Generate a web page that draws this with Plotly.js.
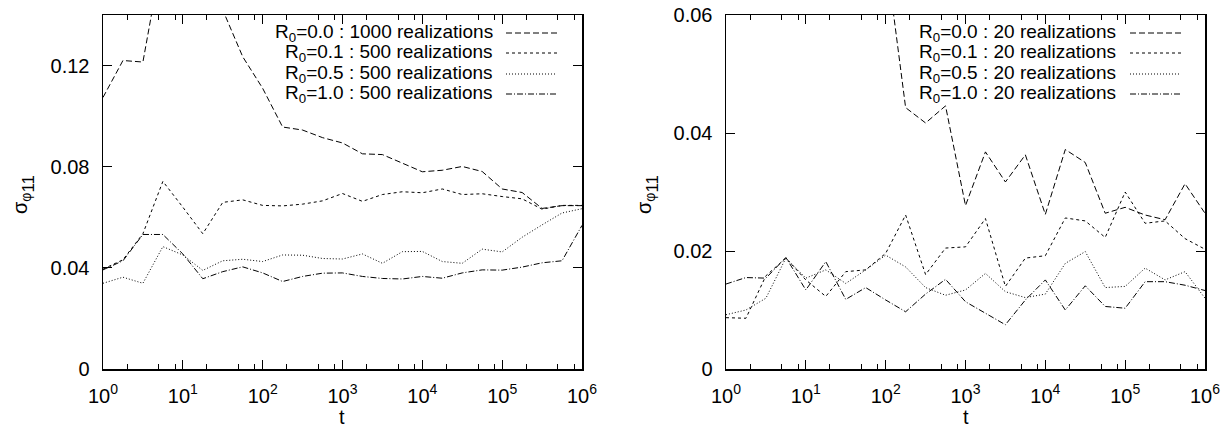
<!DOCTYPE html>
<html>
<head>
<meta charset="utf-8">
<script src="https://cdn.plot.ly/plotly-3.0.1.min.js"></script>
<style>html,body{margin:0;padding:0;background:#fff;}#chart{width:1230px;height:428px;}</style>
</head>
<body>
<div id="chart"></div>
<script>
// time points (4 per decade)
const tValues = [1, 1.778, 3.162, 5.623, 10, 17.78, 31.62, 56.23, 100, 177.8, 316.2, 562.3,
  1000, 1778, 3162, 5623, 10000, 17783, 31623, 56234, 100000, 177828, 316228, 562341, 1000000];

// left panel
const left_R00 = [0.1074, 0.1220, 0.1214, 0.165, 0.175, 0.160, 0.142, 0.1235, 0.1110, 0.0957, 0.0945, 0.0915,
  0.0894, 0.0851, 0.0848, 0.0815, 0.0780, 0.0786, 0.0801, 0.0781, 0.0712, 0.0698, 0.0635, 0.0646, 0.0646];
const left_R01 = [0.0395, 0.0432, 0.0535, 0.0742, 0.0640, 0.0535, 0.0659, 0.0669, 0.0647, 0.0645, 0.0652, 0.0665,
  0.0694, 0.0663, 0.0690, 0.0701, 0.0697, 0.0712, 0.0690, 0.0693, 0.0682, 0.0673, 0.0632, 0.0647, 0.0647];
const left_R05 = [0.0339, 0.0363, 0.0339, 0.0484, 0.0451, 0.0390, 0.0428, 0.0434, 0.0425, 0.0451, 0.0450, 0.0437,
  0.0435, 0.0455, 0.0418, 0.0464, 0.0465, 0.0425, 0.0418, 0.0474, 0.0463, 0.0521, 0.0570, 0.0617, 0.0634];
const left_R10 = [0.0392, 0.0428, 0.0532, 0.0532, 0.0455, 0.0357, 0.0385, 0.0404, 0.0380, 0.0346, 0.0366, 0.0379,
  0.0380, 0.0366, 0.0358, 0.0356, 0.0366, 0.0359, 0.0380, 0.0392, 0.0391, 0.0403, 0.0420, 0.0428, 0.0568];

// right panel
const right_R00 = [0.110, 0.120, 0.125, 0.160, 0.170, 0.150, 0.120, 0.090, 0.0705, 0.0443, 0.0417, 0.0446,
  0.0277, 0.0368, 0.0317, 0.0363, 0.0262, 0.0372, 0.0350, 0.0264, 0.0274, 0.0261, 0.0253, 0.0314, 0.0264];
const right_R01 = [0.0087, 0.0086, 0.0158, 0.0188, 0.0151, 0.0123, 0.0165, 0.0168, 0.0196, 0.0261, 0.0160, 0.0205,
  0.0207, 0.0255, 0.0140, 0.0188, 0.0192, 0.0256, 0.0251, 0.0223, 0.0300, 0.0247, 0.0251, 0.0221, 0.0203];
const right_R05 = [0.0092, 0.0100, 0.0120, 0.0188, 0.0154, 0.0168, 0.0145, 0.0168, 0.0193, 0.0173, 0.0138, 0.0125,
  0.0134, 0.0162, 0.0131, 0.0121, 0.0127, 0.0179, 0.0199, 0.0138, 0.0140, 0.0171, 0.0151, 0.0165, 0.0120];
const right_R10 = [0.0144, 0.0155, 0.0154, 0.0189, 0.0134, 0.0182, 0.0118, 0.0138, 0.0117, 0.0097, 0.0127, 0.0152,
  0.0114, 0.0094, 0.0075, 0.0117, 0.0151, 0.0100, 0.0141, 0.0106, 0.0103, 0.0148, 0.0148, 0.0142, 0.0133];

const leftLabels = ['R<sub>0</sub>=0.0 : 1000 realizations', 'R<sub>0</sub>=0.1 : 500 realizations',
  'R<sub>0</sub>=0.5 : 500 realizations', 'R<sub>0</sub>=1.0 : 500 realizations'];
const rightLabels = ['R<sub>0</sub>=0.0 : 20 realizations', 'R<sub>0</sub>=0.1 : 20 realizations',
  'R<sub>0</sub>=0.5 : 20 realizations', 'R<sub>0</sub>=1.0 : 20 realizations'];

const xTickVals = [1, 10, 100, 1000, 10000, 100000, 1000000];
const xTickText = ['10<sup>0</sup>', '10<sup>1</sup>', '10<sup>2</sup>', '10<sup>3</sup>', '10<sup>4</sup>', '10<sup>5</sup>', '10<sup>6</sup>'];
const xMinorVals = [2, 5, 8, 20, 50, 80, 200, 500, 800, 2000, 5000, 8000, 20000, 50000, 80000,
  200000, 500000, 800000];
const yLeftTicks = [0, 0.04, 0.08, 0.12];
const yLeftText = ['0', '0.04', '0.08', '0.12'];
const yRightTicks = [0, 0.02, 0.04, 0.06];
const yRightText = ['0', '0.02', '0.04', '0.06'];

const yTitle = 'σ<sub>φ<sub><span style="font-size:17px">11</span></sub></sub>';
const xTitle = 't';

const dashes = ['6px,3px', '3px,3px', '1px,2px', '6px,2px,1px,2px'];
const FONT = 'Liberation Sans, Arial, Helvetica, sans-serif';
const W = 1230, H = 428;

const leftSeries = [left_R00, left_R01, left_R05, left_R10];
const rightSeries = [right_R00, right_R01, right_R05, right_R10];

const traces = [];
leftSeries.forEach((ys, i) => traces.push({
  x: tValues, y: ys, xaxis: 'x', yaxis: 'y', type: 'scatter', mode: 'lines',
  line: {color: 'black', width: 1, dash: dashes[i]}, name: leftLabels[i], hoverinfo: 'skip'
}));
rightSeries.forEach((ys, i) => traces.push({
  x: tValues, y: ys, xaxis: 'x2', yaxis: 'y2', type: 'scatter', mode: 'lines',
  line: {color: 'black', width: 1, dash: dashes[i]}, name: rightLabels[i], hoverinfo: 'skip'
}));

const px = v => v / W;
const py = v => 1 - v / H;

const common = {
  showline: true, linecolor: 'black', linewidth: 1.5, mirror: 'allticks',
  ticks: 'inside', ticklen: 9, tickwidth: 1, tickcolor: 'black',
  showgrid: false, zeroline: false, tickfont: {family: FONT, size: 20, color: 'black'},
  tickmode: 'array', fixedrange: true
};
const xCommon = Object.assign({}, common, {
  type: 'log', range: [0, 6], tickvals: xTickVals, ticktext: xTickText, ticklabelstandoff: 8,
  minor: {tickmode: 'array', tickvals: xMinorVals, ticks: 'inside', ticklen: 5, tickwidth: 1, tickcolor: 'black', showgrid: false}
});

const yDomain = [py(369), py(15)];
const layout = {
  width: W, height: H, margin: {l: 0, r: 0, t: 0, b: 0},
  paper_bgcolor: 'white', plot_bgcolor: 'white', showlegend: false,
  font: {family: FONT, size: 20, color: 'black'},
  xaxis: Object.assign({}, xCommon, {domain: [px(103), px(582)], anchor: 'y'}),
  yaxis: Object.assign({}, common, {domain: yDomain, range: [0, 0.14], tickvals: yLeftTicks, ticktext: yLeftText, anchor: 'x', ticklabelstandoff: 8}),
  xaxis2: Object.assign({}, xCommon, {domain: [px(726), px(1205)], anchor: 'y2'}),
  yaxis2: Object.assign({}, common, {domain: yDomain, range: [0, 0.06], tickvals: yRightTicks, ticktext: yRightText, anchor: 'x2', ticklabelstandoff: 8}),
  annotations: [],
  shapes: []
};

// axis titles
[23, 647].forEach(x => {
  layout.annotations.push({xref: 'paper', yref: 'paper', x: px(x), y: py(195), text: yTitle,
    textangle: -90, showarrow: false, xanchor: 'center', yanchor: 'middle', font: {family: FONT, size: 20}});
});
[342, 966].forEach(x => {
  layout.annotations.push({xref: 'paper', yref: 'paper', x: px(x), y: py(417), text: xTitle,
    showarrow: false, xanchor: 'center', yanchor: 'middle', font: {family: FONT, size: 20}});
});

// key (gnuplot-style: text then line sample)
const rowsY = [33, 53, 74, 94];
function key(labels, textRight, sx0, sx1) {
  labels.forEach((lab, i) => {
    layout.annotations.push({xref: 'paper', yref: 'paper', x: px(textRight), y: py(rowsY[i]), text: lab,
      showarrow: false, xanchor: 'right', yanchor: 'middle', borderpad: 0, font: {family: FONT, size: 19}});
    layout.shapes.push({type: 'line', xref: 'paper', yref: 'paper', x0: px(sx0), x1: px(sx1),
      y0: py(rowsY[i]), y1: py(rowsY[i]), line: {color: 'black', width: 1, dash: dashes[i]}});
  });
}
key(leftLabels, 494, 506, 557);
key(rightLabels, 1117, 1130, 1181);

Plotly.newPlot('chart', traces, layout, {staticPlot: true, displayModeBar: false});
</script>
</body>
</html>
